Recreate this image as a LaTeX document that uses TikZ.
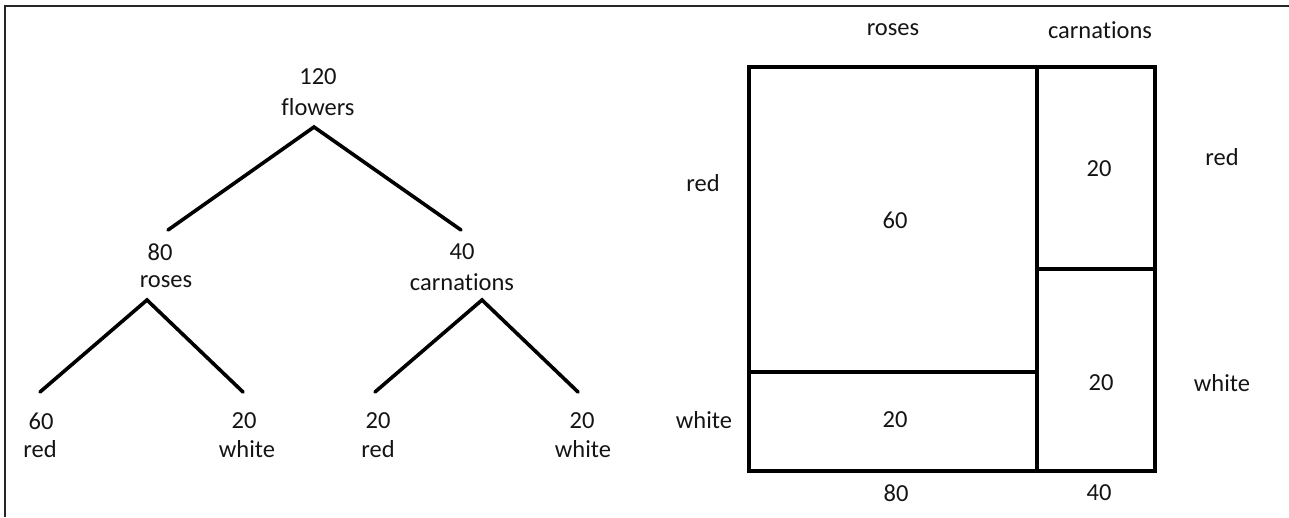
\documentclass[tikz,border=0pt]{standalone}
\usepackage{fontspec}
\setmainfont{Carlito}[Ligatures={NoCommon}]
\begin{document}
\begin{tikzpicture}[x=1pt,y=-1pt,
  lbl/.style={inner sep=0pt,font=\fontsize{24.5}{29}\selectfont,text=black!92},
  branch/.style={line width=3.6pt,line cap=round},
  boxline/.style={line width=4.8pt,line cap=rect},
  frameline/.style={line width=2pt,black!85}]
\useasboundingbox (0,0) rectangle (1289,517);
% frame
\coordinate (f0) at (4.5,5.5);
\coordinate (f1) at (1289,5.5);
\coordinate (f2) at (4.5,517);
\draw[frameline] (f1) -- (f0) -- (f2);
% tree
\node[lbl] (t1a) at (318,77) {120};
\node[lbl] (t1b) at (318,107) {flowers};
\coordinate (a0) at (314,127);
\coordinate (a1) at (168,230);
\coordinate (a2) at (461,230);
\draw[branch] (a1) -- (a0) -- (a2);
\node[lbl] (t2a) at (160,252) {80};
\node[lbl] (t2b) at (166,282) {roses};
\node[lbl] (t3a) at (462,252) {40};
\node[lbl] (t3b) at (462,282) {carnations};
\coordinate (b0) at (147,300);
\coordinate (b1) at (40,392);
\coordinate (b2) at (243,392);
\draw[branch] (b1) -- (b0) -- (b2);
\coordinate (c0) at (482,300);
\coordinate (c1) at (375,392);
\coordinate (c2) at (578,392);
\draw[branch] (c1) -- (c0) -- (c2);
\node[lbl] (l1a) at (41,421) {60};
\node[lbl] (l1b) at (40,449) {red};
\node[lbl] (l2a) at (244,421) {20};
\node[lbl] (l2b) at (247,449) {white};
\node[lbl] (l3a) at (378,421) {20};
\node[lbl] (l3b) at (378,449) {red};
\node[lbl] (l4a) at (582,421) {20};
\node[lbl] (l4b) at (583,449) {white};
% area diagram
\coordinate (p00) at (749,67);
\coordinate (p10) at (1037,67);
\coordinate (p20) at (1155,67);
\coordinate (p01) at (749,372);
\coordinate (p11) at (1037,372);
\coordinate (q1) at (1037,269);
\coordinate (q2) at (1155,269);
\coordinate (p02) at (749,471);
\coordinate (p12) at (1037,471);
\coordinate (p22) at (1155,471);
\draw[boxline] (p00) rectangle (p22);
\draw[boxline] (p10) -- (p12);
\draw[boxline] (p01) -- (p11);
\draw[boxline] (q1) -- (q2);
\node[lbl] (hr) at (893,30) {roses};
\node[lbl] (hc) at (1100,30) {carnations};
\node[lbl] (vr) at (703,183) {red};
\node[lbl] (vw) at (704,420) {white};
\node[lbl] (vr2) at (1222,157) {red};
\node[lbl] (vw2) at (1222,383) {white};
\node[lbl] (n60) at (895,220) {60};
\node[lbl] (n20a) at (1099,169) {20};
\node[lbl] (n20b) at (895,420) {20};
\node[lbl] (n20c) at (1101,383) {20};
\node[lbl] (n80) at (896,493) {80};
\node[lbl] (n40) at (1099,493) {40};
\end{tikzpicture}
\end{document}
